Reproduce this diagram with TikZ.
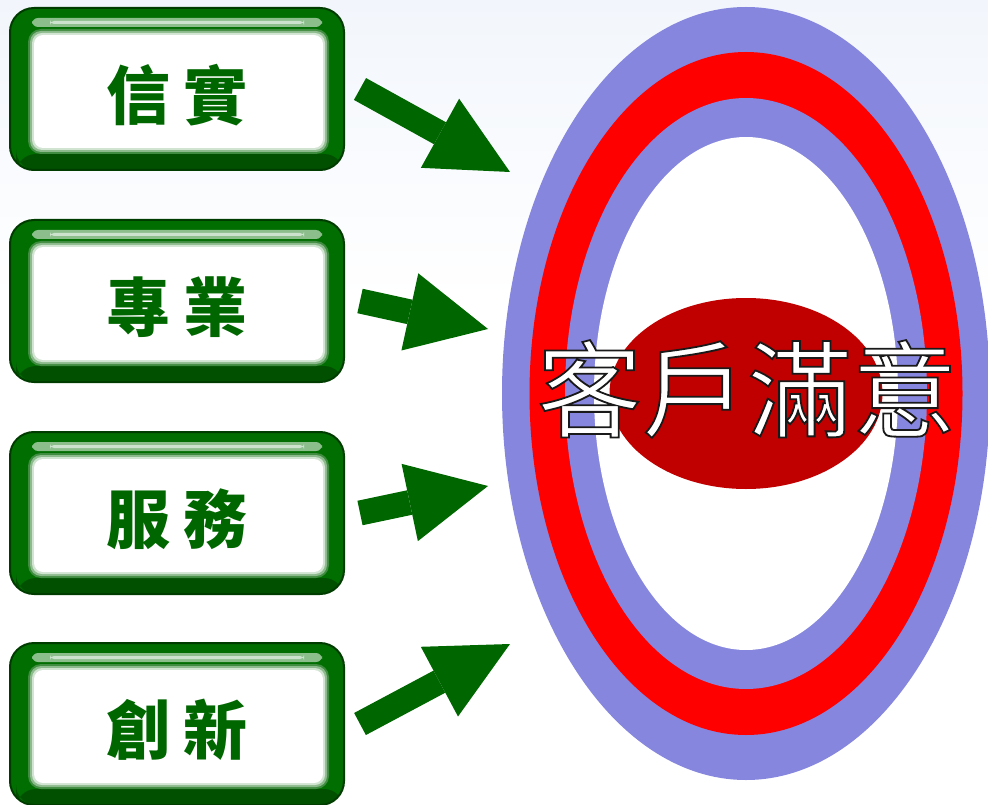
\documentclass[tikz,border=0pt]{standalone}
\usepackage{fontspec}
\newfontfamily\cjk{Noto Sans CJK TC}
\usepackage{tikz}
\usetikzlibrary{arrows.meta,positioning,calc}

\definecolor{lav}{RGB}{134,134,222}
\definecolor{ringred}{RGB}{255,0,0}
\definecolor{core}{RGB}{192,0,0}
\definecolor{leaf}{RGB}{0,102,0}
\definecolor{boxgreen}{RGB}{0,110,0}
\definecolor{boxdark}{RGB}{0,60,0}
\definecolor{bgblue}{RGB}{242,246,252}

\newcommand{\leaffont}{\cjk\bfseries\fontsize{64}{64}\selectfont}
\newcommand{\duo}[2]{#1\hspace{13pt}#2}
% white letters with a black stroke round them
\newcommand{\rimtext}[1]{\special{pdf:code q 2 Tr 1.8 w 0.1 0.1 0.1 RG}#1\special{pdf:code Q}}

\begin{document}
\begin{tikzpicture}[x=1pt,y=-1pt,
  greenbox/.style={rounded corners=24pt, minimum width=334pt, minimum height=162pt,
    inner sep=0pt, text height=61pt, text depth=0pt,
    fill=boxgreen, draw=boxdark, line width=2pt, text=leaf, font=\leaffont,
    path picture={
      \fill[boxdark!60!boxgreen, rounded corners=20pt]
        ([shift={(6,146)}]path picture bounding box.north west) rectangle
        (path picture bounding box.south east);
      \fill[white!55!boxgreen, rounded corners=6pt]
        ([shift={(22,10)}]path picture bounding box.north west) rectangle
        ([shift={(-22,19)}]path picture bounding box.north east);
      \fill[white!80!boxgreen, rounded corners=4pt]
        ([shift={(40,13)}]path picture bounding box.north west) rectangle
        ([shift={(-40,16)}]path picture bounding box.north east);
      \fill[leaf!75!white, rounded corners=13pt]
        ([shift={(18,21)}]path picture bounding box.north west) rectangle
        ([shift={(-15,-16)}]path picture bounding box.south east);
      \fill[leaf!45!white, rounded corners=11pt]
        ([shift={(20,23)}]path picture bounding box.north west) rectangle
        ([shift={(-17,-18)}]path picture bounding box.south east);
      \fill[leaf!18!white, rounded corners=10pt]
        ([shift={(22,25)}]path picture bounding box.north west) rectangle
        ([shift={(-19,-20)}]path picture bounding box.south east);
      \fill[white, rounded corners=9pt]
        ([shift={(24,27)}]path picture bounding box.north west) rectangle
        ([shift={(-21,-22)}]path picture bounding box.south east);
    }},
  bigarrow/.style={draw=leaf, line width=25pt,
    -{Triangle[length=80pt, width=79pt, line width=0pt]}},
  ]
\useasboundingbox (0,0) rectangle (988,805);
\shade[top color=bgblue, bottom color=white] (0,0) rectangle (988,300);

% rings round the core
\coordinate (c) at (746,393.5);
\fill[lav] (c) ellipse [x radius=244, y radius=386.5];
\fill[ringred] (c) ellipse [x radius=216.5, y radius=341.5];
\fill[lav] (c) ellipse [x radius=181, y radius=295.5];
\fill[white] (c) ellipse [x radius=152, y radius=256.5];
\fill[core] (c) ellipse [x radius=136.5, y radius=95.5];
\node[text=white, font=\cjk\fontsize{105}{105}\selectfont] (goal) at (747,389) {\rimtext{客戶滿意}};

\node[greenbox] (xinshi) at (177,89) {\duo{信}{實}};
\node[greenbox] (zhuanye) at (177,301) {\duo{專}{業}};
\node[greenbox] (fuwu) at (177,513) {\duo{服}{務}};
\node[greenbox] (chuangxin) at (177,724) {\duo{創}{新}};

\coordinate (h1) at (510,172);
\coordinate (h2) at (488,329);
\coordinate (h3) at (488,486);
\coordinate (h4) at (510,644);
\draw[bigarrow] ([xshift=15pt]xinshi.east) -- (h1);
\draw[bigarrow] ([xshift=15pt]zhuanye.east) -- (h2);
\draw[bigarrow] ([xshift=15pt]fuwu.east) -- (h3);
\draw[bigarrow] ([xshift=15pt]chuangxin.east) -- (h4);
\end{tikzpicture}
\end{document}
